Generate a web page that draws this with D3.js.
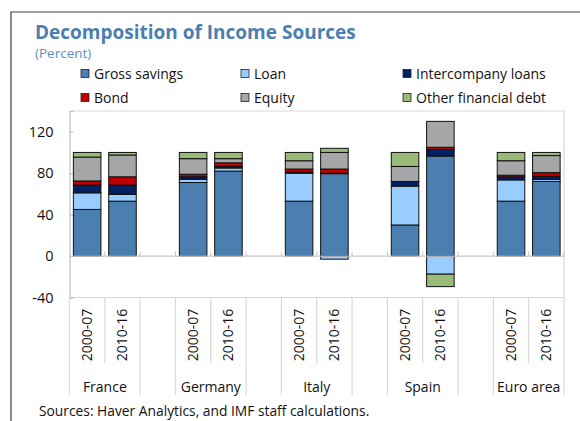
<!DOCTYPE html>
<html>
<head>
<meta charset="utf-8">
<script src="https://cdn.jsdelivr.net/npm/d3@7"></script>
<style>
  body { margin: 0; background: #fff; }
  text { font-family: "Open Sans", sans-serif; }
</style>
</head>
<body>
<div id="chart"></div>
<script>
// data
const countries = ["France", "Germany", "Italy", "Spain", "Euro area"];
const periods = ["2000-07", "2010-16"];
const seriesNames = ["Gross savings", "Loan", "Intercompany loans", "Bond", "Equity", "Other financial debt"];
const seriesColors = ["#4a7fb0", "#99ccff", "#002060", "#c00000", "#a6a6a8", "#98bb78"];
// values per bar: France 00-07, France 10-16, Germany ..., Euro area 10-16
const grossSavings = [45, 53, 71, 82, 53, 79.5, 30, 96.5, 53, 72];
const loan = [16, 6.5, 3, 3, 27, -3, 37.5, -17.5, 20.5, 2];
const intercompany = [7.5, 9, 2.5, 1.5, 1, 0.5, 4.5, 6.5, 3, 3];
const bond = [4, 8, 2.5, 3.5, 3, 4, 0, 2, 1.5, 3.5];
const equity = [23, 21, 15, 4, 8, 16, 14.5, 25, 14, 16.5];
const otherDebt = [4.5, 2.5, 6, 6, 8, 4, 13.5, -12, 8, 3];
const yTicks = [-40, 0, 40, 80, 120];

const seriesValues = [grossSavings, loan, intercompany, bond, equity, otherDebt];

const width = 580, height = 421;
const plot = {left: 69.5, right: 564, top: 111, bottom: 297.5};

const svg = d3.select("#chart").append("svg")
    .attr("width", width)
    .attr("height", height);

// outer frame
svg.append("path")
    .attr("d", `M11,${height} L11,12 L${width},12`)
    .attr("fill", "none")
    .attr("stroke", "#404040")
    .attr("stroke-width", 1.2);

svg.append("text")
    .attr("x", 35).attr("y", 39)
    .attr("font-size", 19).attr("font-weight", "bold")
    .attr("fill", "#4a7fb0")
    .text("Decomposition of Income Sources");

svg.append("text")
    .attr("x", 35).attr("y", 58)
    .attr("font-size", 13.5)
    .attr("fill", "#5b8fc4")
    .text("(Percent)");

// legend
const legendX = [81, 241, 403], legendY = [74, 98];
const legend = svg.append("g").selectAll("g")
  .data(seriesNames)
  .join("g")
    .attr("transform", (d, i) => `translate(${legendX[i % 3]},${legendY[Math.floor(i / 3)]})`);
legend.append("rect")
    .attr("x", 0).attr("y", -4.5)
    .attr("width", 8).attr("height", 8)
    .attr("fill", (d, i) => seriesColors[i])
    .attr("stroke", "#222").attr("stroke-width", 0.8);
legend.append("text")
    .attr("x", 13).attr("y", 5)
    .attr("font-size", 14)
    .attr("fill", "#111")
    .text(d => d);

// rows: two bars per country, empty slot between countries
const rows = [];
const slots = [];
countries.forEach((c, ci) => {
  periods.forEach((p, pi) => {
    const row = {key: c + "|" + p, country: c, period: p};
    seriesNames.forEach((s, si) => { row[s] = seriesValues[si][ci * 2 + pi]; });
    rows.push(row);
    slots.push(row.key);
  });
  if (ci < countries.length - 1) slots.push("gap" + ci);
});

const x = d3.scaleBand()
    .domain(slots)
    .range([plot.left, plot.right])
    .paddingInner(0.22)
    .paddingOuter(0.11);
const step = x.step();

const y = d3.scaleLinear()
    .domain([-40, 140])
    .range([plot.bottom, plot.top]);

// plot border
svg.append("path")
    .attr("d", `M${plot.left},${plot.top} L${plot.right},${plot.top} L${plot.right},${plot.bottom} L${plot.left},${plot.bottom}`)
    .attr("fill", "none")
    .attr("stroke", "#d9d9d9")
    .attr("stroke-width", 1.2);

// y axis
const yAxis = svg.append("g")
    .attr("transform", `translate(${plot.left},0)`)
    .call(d3.axisLeft(y).tickValues(yTicks).tickSize(-4).tickPadding(16).tickFormat(d => String(d)));
yAxis.select(".domain").attr("stroke", "#bfbfbf").attr("stroke-width", 1.2);
yAxis.selectAll(".tick line").attr("stroke", "#bfbfbf");
yAxis.selectAll(".tick text")
    .attr("font-size", 14.5)
    .attr("fill", "#111")
    .attr("font-family", "'Open Sans', sans-serif");

// stacked bars
const stack = d3.stack()
    .keys(seriesNames)
    .offset(d3.stackOffsetDiverging);
const stacked = stack(rows);

svg.append("g").selectAll("g")
  .data(stacked)
  .join("g")
    .attr("fill", (d, i) => seriesColors[i])
  .selectAll("rect")
  .data(d => d.filter(v => v[1] !== v[0]))
  .join("rect")
    .attr("x", d => x(d.data.key))
    .attr("y", d => y(Math.max(d[0], d[1])))
    .attr("width", x.bandwidth())
    .attr("height", d => Math.abs(y(d[0]) - y(d[1])))
    .attr("stroke", "#111")
    .attr("stroke-width", 1);

// zero line with upward ticks between slots
const zero = svg.append("g").attr("transform", `translate(0,${y(0)})`);
zero.append("line")
    .attr("x1", plot.left).attr("x2", plot.right)
    .attr("stroke", "#c8c8c8").attr("stroke-width", 1.2);
zero.selectAll("line.tick")
  .data(slots.slice(1).concat(["end"]))
  .join("line")
    .attr("class", "tick")
    .attr("x1", (d, i) => plot.left + step * (i + 1))
    .attr("x2", (d, i) => plot.left + step * (i + 1))
    .attr("y1", 0).attr("y2", -4.5)
    .attr("stroke", "#c8c8c8");

// category labels below plot
const rowMid = 363, rowEnd = 395;
const cat = svg.append("g");
cat.selectAll("line.slot")
  .data(d3.range(slots.length + 1))
  .join("line")
    .attr("class", "slot")
    .attr("x1", i => plot.left + step * i)
    .attr("x2", i => plot.left + step * i)
    .attr("y1", plot.bottom)
    .attr("y2", i => (i % 3 === 1) ? rowMid : rowEnd)
    .attr("stroke", "#d9d9d9")
    .attr("stroke-width", 1.2);

cat.selectAll("text.period")
  .data(rows)
  .join("text")
    .attr("class", "period")
    .attr("transform", d => `translate(${x(d.key) + x.bandwidth() / 2 + 5},335) rotate(-90)`)
    .attr("text-anchor", "middle")
    .attr("font-size", 14)
    .attr("fill", "#111")
    .text(d => d.period);

cat.selectAll("text.country")
  .data(countries)
  .join("text")
    .attr("class", "country")
    .attr("x", (d, i) => plot.left + step * (i * 3 + 1))
    .attr("y", 392)
    .attr("text-anchor", "middle")
    .attr("font-size", 14)
    .attr("fill", "#111")
    .text(d => d);

svg.append("text")
    .attr("x", 39).attr("y", 416)
    .attr("font-size", 13.8)
    .attr("fill", "#111")
    .text("Sources: Haver Analytics, and IMF staff calculations.");
</script>
</body>
</html>
